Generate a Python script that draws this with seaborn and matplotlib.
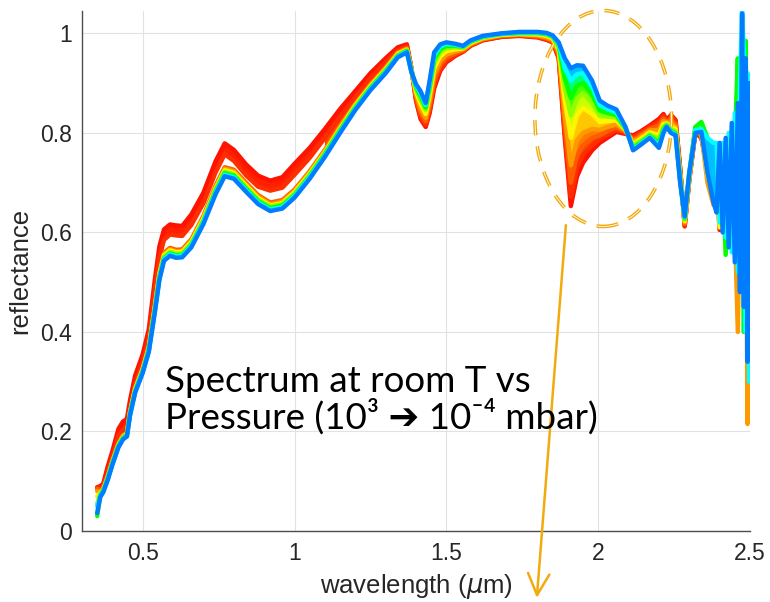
import numpy as np
import pandas as pd
import matplotlib
matplotlib.use("Agg")
import matplotlib.pyplot as plt
import seaborn as sns
from matplotlib.colors import hsv_to_rgb
from matplotlib.patches import Ellipse

# Wavelength grid (micrometres)
wavelength = [
    0.350, 0.360, 0.370, 0.385, 0.400, 0.420, 0.435, 0.448, 0.458, 0.475,
    0.500, 0.520, 0.540, 0.555, 0.570, 0.590, 0.610, 0.630, 0.660, 0.700,
    0.740, 0.770, 0.800, 0.840, 0.880, 0.920, 0.960, 1.000, 1.050, 1.100,
    1.150, 1.200, 1.250, 1.300, 1.340, 1.370, 1.385, 1.400, 1.415, 1.432,
    1.445, 1.460, 1.480, 1.500, 1.530, 1.555, 1.580, 1.620, 1.680, 1.740,
    1.800, 1.830, 1.850, 1.870, 1.890, 1.910, 1.930, 1.950, 1.980, 2.005,
    2.030, 2.060, 2.090, 2.115, 2.140, 2.170, 2.200, 2.215, 2.225, 2.240,
    2.255, 2.270, 2.285, 2.300, 2.320, 2.340, 2.360, 2.380,
    2.390, 2.400, 2.410, 2.420, 2.430, 2.440, 2.450, 2.460, 2.467, 2.474,
    2.480, 2.486, 2.492, 2.497,
]

# Reflectance spectra, from the highest pressure (step 1) to the lowest (step 9)
step_1 = [
    0.088, 0.090, 0.095, 0.130, 0.160, 0.205, 0.220, 0.225, 0.262, 0.312,
    0.355, 0.405, 0.505, 0.572, 0.606, 0.616, 0.614, 0.613, 0.636, 0.680,
    0.743, 0.779, 0.766, 0.737, 0.714, 0.704, 0.711, 0.738, 0.770, 0.808,
    0.848, 0.884, 0.920, 0.950, 0.972, 0.978, 0.930, 0.865, 0.828, 0.812,
    0.840, 0.890, 0.925, 0.942, 0.955, 0.963, 0.975, 0.986, 0.993, 0.995,
    0.992, 0.987, 0.982, 0.950, 0.790, 0.653, 0.712, 0.740, 0.765, 0.780,
    0.790, 0.802, 0.798, 0.795, 0.803, 0.815, 0.828, 0.838, 0.826, 0.836,
    0.826, 0.730, 0.612, 0.705, 0.800, 0.790, 0.730, 0.660,
    0.700, 0.605, 0.700, 0.660, 0.700, 0.640, 0.700, 0.640, 0.700, 0.800,
    0.620, 0.700, 0.600, 0.680,
]
step_2 = [
    0.086, 0.084, 0.090, 0.118, 0.148, 0.192, 0.203, 0.206, 0.246, 0.295,
    0.338, 0.388, 0.485, 0.550, 0.585, 0.596, 0.594, 0.593, 0.615, 0.659,
    0.721, 0.757, 0.744, 0.715, 0.692, 0.684, 0.690, 0.716, 0.750, 0.790,
    0.832, 0.872, 0.910, 0.942, 0.966, 0.974, 0.929, 0.868, 0.832, 0.816,
    0.845, 0.896, 0.929, 0.945, 0.957, 0.964, 0.976, 0.987, 0.993, 0.996,
    0.993, 0.988, 0.983, 0.953, 0.800, 0.672, 0.730, 0.755, 0.775, 0.787,
    0.796, 0.806, 0.800, 0.791, 0.800, 0.812, 0.822, 0.834, 0.825, 0.832,
    0.823, 0.727, 0.614, 0.707, 0.802, 0.792, 0.725, 0.665,
    0.690, 0.640, 0.690, 0.650, 0.700, 0.640, 0.720, 0.620, 0.720, 0.820,
    0.600, 0.740, 0.560, 0.700,
]
step_3 = [
    0.085, 0.080, 0.086, 0.111, 0.141, 0.176, 0.192, 0.198, 0.240, 0.288,
    0.328, 0.372, 0.454, 0.521, 0.559, 0.569, 0.565, 0.566, 0.586, 0.633,
    0.694, 0.731, 0.726, 0.700, 0.675, 0.660, 0.665, 0.686, 0.723, 0.766,
    0.814, 0.859, 0.898, 0.932, 0.962, 0.970, 0.928, 0.872, 0.840, 0.823,
    0.854, 0.906, 0.937, 0.951, 0.960, 0.966, 0.977, 0.988, 0.995, 0.997,
    0.994, 0.990, 0.985, 0.958, 0.815, 0.700, 0.755, 0.775, 0.790, 0.795,
    0.803, 0.811, 0.802, 0.787, 0.796, 0.808, 0.815, 0.829, 0.823, 0.826,
    0.818, 0.722, 0.617, 0.709, 0.804, 0.795, 0.720, 0.670,
    0.700, 0.650, 0.700, 0.640, 0.710, 0.620, 0.720, 0.580, 0.740, 0.840,
    0.560, 0.780, 0.500, 0.720,
]
step_4 = [
    0.080, 0.078, 0.085, 0.110, 0.140, 0.175, 0.191, 0.197, 0.239, 0.286,
    0.326, 0.370, 0.452, 0.518, 0.556, 0.566, 0.562, 0.563, 0.583, 0.630,
    0.691, 0.728, 0.723, 0.697, 0.672, 0.657, 0.662, 0.683, 0.721, 0.764,
    0.812, 0.857, 0.896, 0.930, 0.960, 0.969, 0.927, 0.878, 0.849, 0.830,
    0.865, 0.917, 0.945, 0.957, 0.964, 0.968, 0.979, 0.989, 0.996, 0.998,
    0.996, 0.992, 0.987, 0.963, 0.835, 0.735, 0.785, 0.800, 0.808, 0.806,
    0.812, 0.817, 0.804, 0.783, 0.792, 0.805, 0.806, 0.824, 0.821, 0.820,
    0.813, 0.718, 0.620, 0.711, 0.806, 0.797, 0.700, 0.655,
    0.700, 0.660, 0.700, 0.640, 0.720, 0.620, 0.620, 0.400, 0.700, 0.840,
    0.560, 0.760, 0.215, 0.700,
]
step_5 = [
    0.070, 0.076, 0.083, 0.108, 0.138, 0.173, 0.189, 0.195, 0.237, 0.285,
    0.325, 0.368, 0.449, 0.516, 0.554, 0.564, 0.560, 0.561, 0.581, 0.628,
    0.688, 0.725, 0.720, 0.694, 0.669, 0.654, 0.659, 0.681, 0.718, 0.761,
    0.809, 0.855, 0.894, 0.928, 0.959, 0.967, 0.926, 0.883, 0.859, 0.838,
    0.876, 0.930, 0.954, 0.964, 0.968, 0.970, 0.981, 0.991, 0.997, 0.999,
    0.998, 0.995, 0.990, 0.968, 0.865, 0.790, 0.835, 0.850, 0.838, 0.822,
    0.824, 0.825, 0.806, 0.778, 0.788, 0.801, 0.796, 0.818, 0.819, 0.814,
    0.808, 0.714, 0.623, 0.713, 0.808, 0.800, 0.715, 0.670,
    0.710, 0.610, 0.720, 0.650, 0.730, 0.630, 0.750, 0.580, 0.780, 0.880,
    0.520, 0.860, 0.420, 0.760,
]
step_6 = [
    0.055, 0.074, 0.082, 0.107, 0.137, 0.172, 0.188, 0.194, 0.236, 0.283,
    0.323, 0.366, 0.447, 0.513, 0.551, 0.561, 0.557, 0.558, 0.578, 0.625,
    0.686, 0.722, 0.717, 0.691, 0.666, 0.652, 0.657, 0.678, 0.716, 0.759,
    0.807, 0.853, 0.892, 0.926, 0.957, 0.966, 0.925, 0.888, 0.867, 0.846,
    0.886, 0.940, 0.962, 0.970, 0.972, 0.971, 0.983, 0.992, 0.998, 1.000,
    1.000, 0.997, 0.992, 0.973, 0.890, 0.835, 0.868, 0.880, 0.860, 0.835,
    0.833, 0.831, 0.808, 0.774, 0.784, 0.797, 0.788, 0.812, 0.817, 0.808,
    0.803, 0.710, 0.626, 0.715, 0.810, 0.812, 0.760, 0.680,
    0.720, 0.670, 0.730, 0.640, 0.740, 0.640, 0.760, 0.600, 0.800, 0.900,
    0.500, 0.900, 0.450, 0.820,
]
step_7 = [
    0.030, 0.072, 0.081, 0.106, 0.136, 0.171, 0.187, 0.193, 0.235, 0.281,
    0.321, 0.364, 0.445, 0.510, 0.548, 0.558, 0.554, 0.555, 0.575, 0.622,
    0.683, 0.719, 0.714, 0.688, 0.663, 0.649, 0.654, 0.675, 0.713, 0.757,
    0.805, 0.850, 0.890, 0.924, 0.955, 0.965, 0.924, 0.892, 0.874, 0.851,
    0.893, 0.949, 0.968, 0.975, 0.975, 0.973, 0.984, 0.993, 0.999, 1.001,
    1.001, 0.999, 0.994, 0.977, 0.910, 0.870, 0.895, 0.900, 0.878, 0.845,
    0.840, 0.836, 0.809, 0.770, 0.780, 0.794, 0.780, 0.807, 0.815, 0.804,
    0.799, 0.706, 0.628, 0.717, 0.812, 0.822, 0.790, 0.700,
    0.720, 0.680, 0.720, 0.555, 0.740, 0.640, 0.780, 0.950, 0.640, 0.880,
    0.400, 0.985, 0.450, 0.880,
]
step_8 = [
    0.050, 0.070, 0.079, 0.104, 0.134, 0.169, 0.185, 0.191, 0.233, 0.280,
    0.320, 0.362, 0.442, 0.508, 0.546, 0.556, 0.552, 0.553, 0.573, 0.620,
    0.680, 0.716, 0.711, 0.685, 0.660, 0.646, 0.651, 0.673, 0.711, 0.754,
    0.802, 0.848, 0.888, 0.922, 0.954, 0.963, 0.923, 0.895, 0.880, 0.856,
    0.900, 0.956, 0.974, 0.979, 0.977, 0.974, 0.985, 0.994, 0.999, 1.002,
    1.002, 1.000, 0.995, 0.980, 0.930, 0.905, 0.918, 0.920, 0.893, 0.856,
    0.848, 0.841, 0.811, 0.767, 0.778, 0.792, 0.774, 0.803, 0.813, 0.802,
    0.797, 0.703, 0.630, 0.719, 0.806, 0.808, 0.790, 0.780,
    0.780, 0.620, 0.780, 0.590, 0.800, 0.560, 0.840, 0.520, 0.900, 1.045,
    0.960, 0.400, 0.920, 0.300,
]
step_9 = [
    0.036, 0.068, 0.078, 0.103, 0.133, 0.168, 0.184, 0.190, 0.232, 0.278,
    0.318, 0.360, 0.440, 0.505, 0.543, 0.553, 0.549, 0.550, 0.570, 0.617,
    0.677, 0.713, 0.708, 0.682, 0.657, 0.643, 0.648, 0.670, 0.708, 0.752,
    0.800, 0.846, 0.886, 0.920, 0.952, 0.962, 0.922, 0.898, 0.884, 0.860,
    0.905, 0.962, 0.978, 0.982, 0.979, 0.975, 0.986, 0.995, 1.000, 1.003,
    1.003, 1.001, 0.996, 0.982, 0.950, 0.930, 0.936, 0.935, 0.905, 0.865,
    0.855, 0.847, 0.812, 0.765, 0.776, 0.790, 0.770, 0.800, 0.812, 0.800,
    0.795, 0.700, 0.632, 0.720, 0.800, 0.802, 0.720, 0.660,
    0.640, 0.780, 0.600, 0.790, 0.570, 0.820, 0.540, 0.860, 0.480, 1.040,
    0.450, 0.950, 0.340, 0.900,
]

spectra = [step_1, step_2, step_3, step_4, step_5, step_6, step_7, step_8, step_9]
step_names = [f"step {i + 1}" for i in range(len(spectra))]
# hue of each spectrum: red (high pressure) through yellow, green, cyan to blue
step_hues = [0.012, 0.03, 0.06, 0.10, 0.16, 0.24, 0.33, 0.50, 0.585]

x_ticks = [0.5, 1, 1.5, 2, 2.5]
x_tick_labels = ["0.5", "1", "1.5", "2", "2.5"]
y_ticks = [0, 0.2, 0.4, 0.6, 0.8, 1.0]
y_tick_labels = ["0", "0.2", "0.4", "0.6", "0.8", "1"]

sns.set_style("white")
plt.rcParams["font.family"] = ["Liberation Sans", "DejaVu Sans"]
plt.rcParams["lines.scale_dashes"] = False

colors = [tuple(hsv_to_rgb((h, 1.0, 1.0))) for h in step_hues]
orange = (0.95, 0.67, 0.06)
ink = "#262626"

df = pd.DataFrame({
    "wavelength": np.tile(wavelength, len(spectra)),
    "reflectance": np.concatenate(spectra),
    "step": np.repeat(step_names, len(wavelength)),
})

fig = plt.figure(figsize=(7.7, 6.02), dpi=100)
ax = fig.add_axes([0.1065, 0.118, 0.8675, 0.8637])

# colour bands between neighbouring spectra
lam = np.asarray(wavelength)
n_last = len(spectra) - 2
for i in range(len(spectra) - 1):
    if i == n_last:
        # the two lowest-pressure spectra cover the noisy end of the range
        mask = np.ones_like(lam, dtype=bool)
        z = 2.05
    else:
        mask = lam <= 2.38
        z = 1.5
    if i == 1:
        # the high-pressure group stays apart from the rest in the visible
        mask &= ~((lam > 0.47) & (lam < 1.08))
    band = hsv_to_rgb(((step_hues[i] + step_hues[i + 1]) / 2, 1.0, 1.0))
    ax.fill_between(lam, spectra[i], spectra[i + 1], where=mask,
                    color=band, lw=0, zorder=z)

sns.lineplot(data=df, x="wavelength", y="reflectance", hue="step",
             hue_order=step_names, palette=colors, estimator=None, sort=False,
             lw=3.2, legend=False, ax=ax, zorder=2)
for line in ax.lines[-2:]:
    line.set_zorder(2.1)

ax.set_xlim(0.3, 2.5)
ax.set_ylim(0, 1.045)
ax.set_xticks(x_ticks)
ax.set_xticklabels(x_tick_labels)
ax.set_yticks(y_ticks)
ax.set_yticklabels(y_tick_labels)
ax.grid(True, color="#E2E2E2", lw=0.8)
ax.set_axisbelow(True)
for side in ["top", "right"]:
    ax.spines[side].set_visible(False)
for side in ["left", "bottom"]:
    ax.spines[side].set_color("#4D4D4D")
    ax.spines[side].set_linewidth(1.0)
ax.tick_params(direction="in", length=7, width=1, color="#4D4D4D",
               labelsize=16.5, labelcolor=ink)
ax.tick_params(axis="y", pad=7)
ax.tick_params(axis="x", pad=8)
ax.set_xlabel("wavelength ($\\mu$m)", fontsize=18.5, color=ink, labelpad=5)
ax.set_ylabel("reflectance", fontsize=18.5, color=ink, labelpad=6)

txt_font = ["Lato", "DejaVu Sans"]
ax.text(0.5735, 0.279, "Spectrum at room T vs", fontsize=26.5, family=txt_font,
        ha="left", va="baseline", color="black", zorder=6)
ax.text(0.5735, 0.2048, "Pressure (10\u00b3 \u2794 10\u207b\u2074 mbar)", fontsize=26.5,
        family=txt_font, ha="left", va="baseline", color="black", zorder=6)

# dashed ring around the 1.9 um band
ring_kw = dict(fill=False, clip_on=False, zorder=5)
ax.add_patch(Ellipse((2.0166, 0.829), 0.450, 0.434, ec=orange, lw=2.6,
                     ls=(0, (11, 8)), **ring_kw))
ax.add_patch(Ellipse((2.0166, 0.829), 0.450, 0.434, ec="white", lw=0.6,
                     ls=(0, (11, 8)), **ring_kw))

ax.annotate("", xy=(1.798, -0.1345), xytext=(1.8937, 0.6145),
            arrowprops=dict(arrowstyle="->,head_length=0.7,head_width=0.35",
                            color=orange, lw=1.8, shrinkA=0, shrinkB=0,
                            mutation_scale=22),
            annotation_clip=False, zorder=5)

fig.savefig("out.png", dpi=100)
